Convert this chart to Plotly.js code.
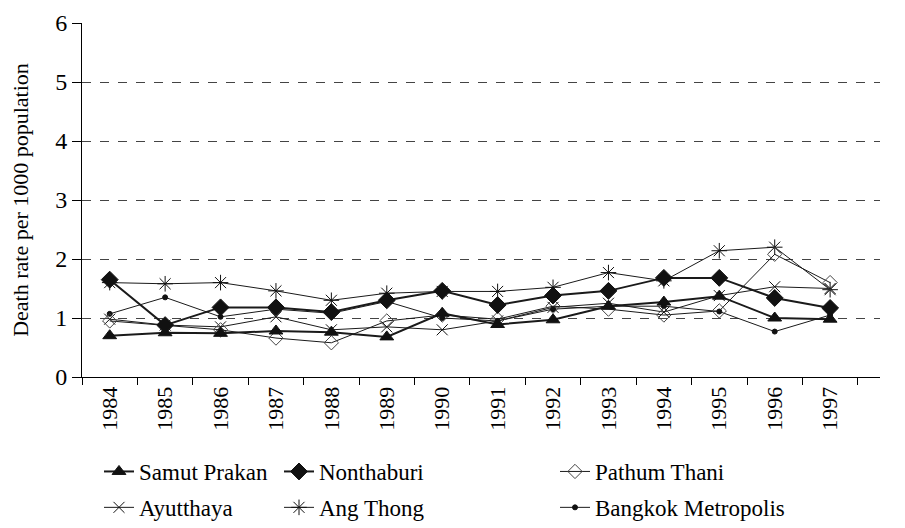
<!DOCTYPE html>
<html>
<head>
<meta charset="utf-8">
<script src="https://cdn.plot.ly/plotly-3.0.1.min.js"></script>
<style>html,body{margin:0;padding:0;background:#fff;}#chart{width:905px;height:528px;}</style>
</head>
<body>
<div id="chart"></div>
<script>
const years = [1984,1985,1986,1987,1988,1989,1990,1991,1992,1993,1994,1995,1996,1997];
const yTickVals = [0,1,2,3,4,5,6];
const samutPrakan = [0.70,0.75,0.74,0.78,0.76,0.68,1.08,0.89,0.97,1.20,1.27,1.37,1.00,0.98];
const nonthaburi  = [1.65,0.88,1.18,1.18,1.10,1.30,1.46,1.22,1.38,1.46,1.68,1.68,1.34,1.17];
const pathumThani = [0.95,0.88,0.80,0.66,0.58,0.95,1.05,0.98,1.20,1.15,1.05,1.12,2.08,1.60];
const ayutthaya   = [0.98,0.88,0.85,1.02,0.80,0.85,0.80,0.95,1.18,1.25,1.10,1.38,1.53,1.50];
const angThong    = [1.60,1.58,1.60,1.46,1.30,1.42,1.45,1.45,1.52,1.77,1.63,2.14,2.20,1.48];
const bangkok     = [1.07,1.35,1.02,1.15,1.08,1.28,1.00,0.95,1.15,1.20,1.20,1.11,0.77,1.05];

const F = 'Liberation Serif';
function tr(name, y, lw, sym, size, legend, rank, mcolor, mline){
  return {
    type:'scatter', mode:'lines+markers', name:name, x:years, y:y,
    line:{color:'#1a1a1a', width:lw},
    marker:{symbol:sym, size:size, color:mcolor||'#111', line:{color:mline||'#111', width:1}},
    legend:legend, legendgroup:name, legendrank:rank
  };
}
const data = [
  tr('Bangkok Metropolis', bangkok, 1, 'circle', 5, 'legend3', 2),
  tr('Ayutthaya', ayutthaya, 1, 'x-thin-open', 11, 'legend', 2, '#111', '#222'),
  tr('Ang Thong', angThong, 1, 'asterisk-open', 13, 'legend2', 2, '#111', '#222'),
  tr('Pathum Thani', pathumThani, 1, 'diamond-open', 11, 'legend3', 1, '#444', '#444'),
  tr('Samut Prakan', samutPrakan, 2, 'triangle-up', 12, 'legend', 1),
  tr('Nonthaburi', nonthaburi, 2, 'diamond', 13, 'legend2', 1)
];
const plotL = 82, plotR = 880, plotT = 23, plotB = 377;
const px2x = p => (p - plotL) / (plotR - plotL);
const py2y = p => (plotB - p) / (plotB - plotT);
const legBase = {xref:'paper', yref:'paper', yanchor:'top', xanchor:'left',
  y:py2y(450), font:{family:F, size:23, color:'#000'}, bgcolor:'rgba(0,0,0,0)',
  tracegroupgap:3, orientation:'v', traceorder:'grouped'};
const layout = {
  width:905, height:528,
  margin:{l:82, r:25, t:23, b:151, autoexpand:false},
  paper_bgcolor:'#fff', plot_bgcolor:'#fff',
  font:{family:F, color:'#000'},
  showlegend:true,
  legend: Object.assign({}, legBase, {x:px2x(99)}),
  legend2: Object.assign({}, legBase, {x:px2x(279)}),
  legend3: Object.assign({}, legBase, {x:px2x(555)}),
  xaxis:{
    range:[1983.5,1997.9], tickmode:'array', tickvals:years, ticktext:years.map(String),
    tickangle:-90, ticks:'', showgrid:false, zeroline:false,
    showline:true, linecolor:'#000', linewidth:1,
    tickfont:{family:F, size:22, color:'#000'},
    minor:{tick0:1983.5, dtick:1, ticks:'outside', ticklen:7, tickcolor:'#000', showgrid:false}
  },
  yaxis:{
    range:[0,6], tickvals:yTickVals, ticks:'outside', ticklen:9, tickcolor:'#000',
    showline:true, linecolor:'#000', linewidth:1, zeroline:false,
    showgrid:true, gridcolor:'#444', griddash:'dash', gridwidth:1,
    tickfont:{family:F, size:24, color:'#000'},
    title:{text:'Death rate per 1000 population', font:{family:F, size:22, color:'#000'}, standoff:20}
  }
};
Plotly.newPlot('chart', data, layout, {displayModeBar:false, staticPlot:true});
</script>
</body>
</html>
